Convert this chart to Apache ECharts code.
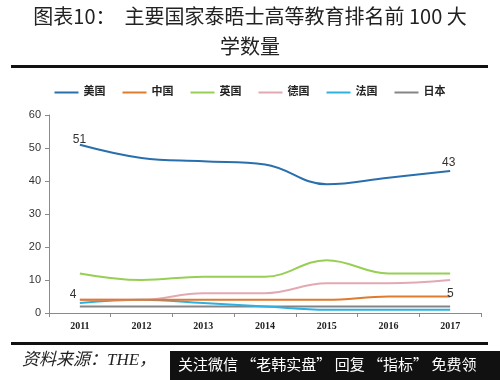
<!DOCTYPE html>
<html><head><meta charset="utf-8">
<script src="https://cdn.jsdelivr.net/npm/echarts@6/dist/echarts.min.js"></script>
<style>html,body{margin:0;padding:0;background:#fff}#c{width:500px;height:380px}</style>
</head><body><div id="c"></div>
<script>
var years = ['2011','2012','2013','2014','2015','2016','2017'];
var seriesNames = ['美国','中国','英国','德国','法国','日本'];
var usa = [51, 47, 46, 45, 39, 41, 43];
var china = [4, 4, 4, 4, 4, 5, 5];
var uk = [12, 10, 11, 11, 16, 12, 12];
var germany = [4, 4, 6, 6, 9, 9, 10];
var france = [3, 4, 3, 2, 1, 1, 1];
var japan = [2, 2, 2, 2, 2, 2, 2];
var yTicks = [0, 10, 20, 30, 40, 50, 60];
var titleLines = ['图表10：  主要国家泰晤士高等教育排名前 100 大', '学数量'];
var sourceText = '资料来源：THE，';
var bannerText = '关注微信 “老韩实盘” 回复 “指标” 免费领';

var colors = ['#2a6fad', '#e07a2c', '#97cf55', '#e3a9b3', '#2cb2e2', '#858585'];
var allData = [usa, china, uk, germany, france, japan];
var serif = '"Liberation Serif","DejaVu Serif","Noto Sans CJK SC",serif';

function labelled(arr, firstPos, lastPos) {
  return arr.map(function (v, i) {
    if (i === 0 && firstPos) return {value: v, label: {show: true, position: firstPos}};
    if (i === arr.length - 1 && lastPos) return {value: v, label: {show: true, position: lastPos}};
    return v;
  });
}

var series = allData.map(function (arr, k) {
  var data = arr;
  if (k === 0) data = labelled(arr, [-7, -11], [-8, -14]);
  if (k === 1) data = labelled(arr, [-10, -11], [-3, -9]);
  return {
    name: seriesNames[k], type: 'line', data: data, smooth: 0.4,
    showSymbol: true, symbol: 'circle', symbolSize: 0.1,
    lineStyle: {width: 2, color: colors[k]}, itemStyle: {color: colors[k]},
    label: {show: false, color: '#333', fontSize: 12, fontFamily: '"Liberation Sans",Arial,sans-serif', formatter: '{c}'},
    z: 10 - k
  };
});

var chart = echarts.init(document.getElementById('c'));
chart.setOption({
  animation: false,
  backgroundColor: '#fff',
  color: colors,
  grid: {left: 49, right: 19, top: 115, bottom: 67},
  legend: {
    top: 82, left: 'center', itemWidth: 24, itemHeight: 2, itemGap: 17, icon: 'rect',
    data: seriesNames,
    textStyle: {fontSize: 11, fontWeight: 'bold', color: '#222', fontFamily: serif}
  },
  xAxis: {
    type: 'category', data: years, boundaryGap: true,
    axisLine: {lineStyle: {color: '#8a8a8a'}},
    axisTick: {show: true, length: 4, lineStyle: {color: '#8a8a8a'}},
    axisLabel: {color: '#222', fontSize: 10, fontWeight: 'bold', fontFamily: serif, margin: 8}
  },
  yAxis: {
    type: 'value', min: yTicks[0], max: yTicks[yTicks.length - 1], interval: 10,
    axisLine: {show: true, lineStyle: {color: '#8a8a8a'}},
    axisTick: {show: true, length: 4, lineStyle: {color: '#8a8a8a'}},
    splitLine: {show: false},
    axisLabel: {color: '#333', fontSize: 11, fontFamily: '"Liberation Sans",Arial,sans-serif', margin: 8}
  },
  series: series,
  graphic: [
    {type: 'text', left: 'center', top: 6, style: {text: titleLines[0], fontSize: 20, fill: '#222', fontFamily: '"Noto Sans CJK SC",serif'}},
    {type: 'text', left: 'center', top: 36, style: {text: titleLines[1], fontSize: 20, fill: '#222', fontFamily: '"Noto Sans CJK SC",serif'}},
    {type: 'rect', shape: {x: 11, y: 65, width: 477, height: 3}, style: {fill: '#111'}},
    {type: 'rect', shape: {x: 11, y: 342, width: 477, height: 3}, style: {fill: '#111'}},
    {type: 'text', left: 22, top: 352, style: {text: sourceText, fontSize: 17, fontStyle: 'italic', fill: '#222', fontFamily: serif}},
    {type: 'rect', shape: {x: 170, y: 351, width: 330, height: 29}, style: {fill: '#111'}},
    {type: 'text', left: 178, top: 357, style: {text: bannerText, fontSize: 15, fill: '#fff', fontFamily: '"Noto Sans CJK SC",sans-serif'}}
  ]
});
</script></body></html>
